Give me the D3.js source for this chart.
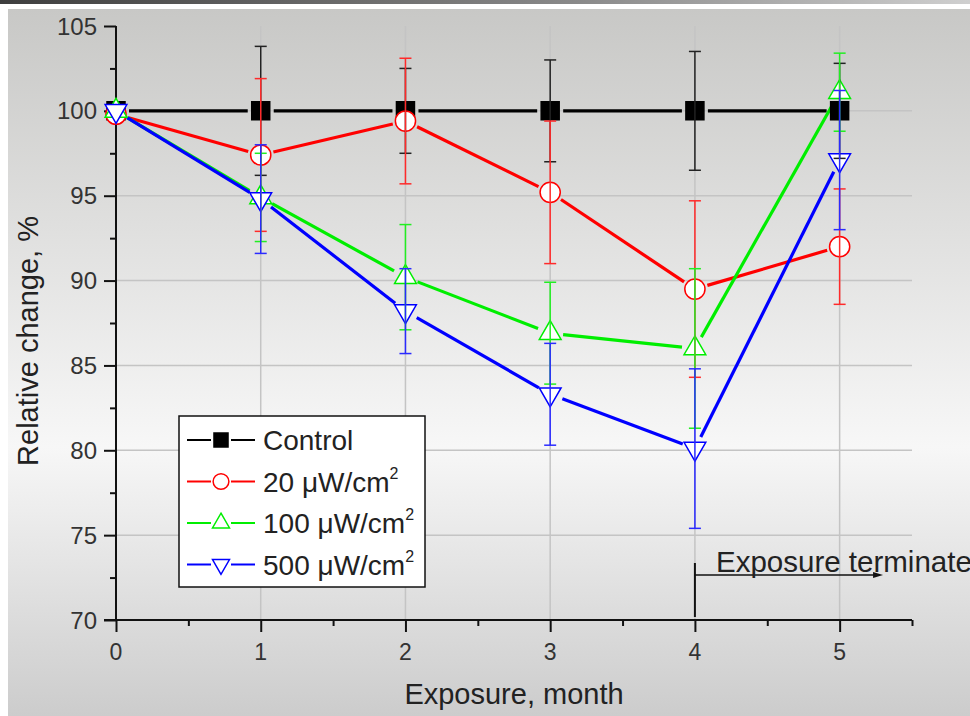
<!DOCTYPE html>
<html>
<head>
<meta charset="utf-8">
<script src="https://cdn.jsdelivr.net/npm/d3@7"></script>
<style>
    body { margin: 0; background: #ffffff; overflow: hidden; }
    text { font-family: "Liberation Sans", Arial, sans-serif; }
</style>
</head>
<body>
<div id="chart"></div>
<script>
// values
const months = [0, 1, 2, 3, 4, 5];
const x_ticks = [0, 1, 2, 3, 4, 5];
const y_ticks = [70, 75, 80, 85, 90, 95, 100, 105];
const grid_y = [75, 80, 85, 90, 95, 100];

const control_values = [100, 100, 100, 100, 100, 100];
const control_errors = [0, 3.8, 2.5, 3.0, 3.5, 2.8];

const uw20_values = [99.8, 97.4, 99.4, 95.2, 89.5, 92.0];
const uw20_errors = [0, 4.5, 3.7, 4.2, 5.2, 3.4];

const uw100_values = [100, 94.9, 90.2, 86.9, 86.0, 101.1];
const uw100_errors = [0, 2.6, 3.1, 3.0, 4.7, 2.3];

const uw500_values = [100, 94.8, 88.2, 83.3, 80.1, 97.1];
const uw500_errors = [0, 3.2, 2.5, 3.0, 4.7, 4.1];

const series = [
    {label: "Control", values: control_values, errors: control_errors, color: "#000000", err_color: "#222222", marker: "square"},
    {label: "20 ", values: uw20_values, errors: uw20_errors, color: "#ff0000", err_color: "#ff2a2a", marker: "circle"},
    {label: "100 ", values: uw100_values, errors: uw100_errors, color: "#00ee00", err_color: "#22ee22", marker: "up"},
    {label: "500 ", values: uw500_values, errors: uw500_errors, color: "#0000ff", err_color: "#2a2aff", marker: "down"}
];

const full_width = 970, full_height = 716;
const plot = {left: 116, right: 912, top: 26, bottom: 620};

const svg = d3.select("#chart").append("svg")
    .attr("width", full_width)
    .attr("height", full_height);

// background panel
const defs = svg.append("defs");
const bg = defs.append("linearGradient").attr("id", "bg").attr("x1", 0).attr("y1", 0).attr("x2", 0).attr("y2", 1);
bg.append("stop").attr("offset", "0%").attr("stop-color", "#c8c8c6");
bg.append("stop").attr("offset", "62%").attr("stop-color", "#f7f7f7");
bg.append("stop").attr("offset", "100%").attr("stop-color", "#cccccc");
const bar = defs.append("linearGradient").attr("id", "bar").attr("x1", 0).attr("y1", 0).attr("x2", 1).attr("y2", 0);
bar.append("stop").attr("offset", "0%").attr("stop-color", "#3e3e3e");
bar.append("stop").attr("offset", "60%").attr("stop-color", "#8a8a8a");
bar.append("stop").attr("offset", "100%").attr("stop-color", "#cfcfcf");

svg.append("rect").attr("x", 0).attr("y", 0).attr("width", full_width).attr("height", 4).attr("fill", "url(#bar)");
svg.append("rect").attr("x", 8).attr("y", 9).attr("width", full_width - 8).attr("height", full_height - 9).attr("fill", "url(#bg)");

const x = d3.scaleLinear().domain([0, 5.5]).range([plot.left, plot.right]);
const y = d3.scaleLinear().domain([70, 105]).range([plot.bottom, plot.top]);

// grid
svg.append("g").selectAll("line").data(grid_y).enter().append("line")
    .attr("x1", plot.left).attr("x2", plot.right)
    .attr("y1", d => y(d)).attr("y2", d => y(d))
    .attr("stroke", "#c4c4c4").attr("stroke-width", 1.5);
svg.append("g").selectAll("line").data(x_ticks.slice(1)).enter().append("line")
    .attr("x1", d => x(d)).attr("x2", d => x(d))
    .attr("y1", plot.top).attr("y2", plot.bottom)
    .attr("stroke", "#c4c4c4").attr("stroke-width", 1.5);

// axes
const x_axis = svg.append("g")
    .attr("transform", "translate(0," + plot.bottom + ")")
    .call(d3.axisBottom(x).tickValues(d3.range(0, 5.51, 0.5)).tickSize(6).tickFormat(""));
x_axis.selectAll(".tick line").filter(d => d % 1 === 0).attr("y2", 12);
x_axis.select(".domain").attr("d", "M" + (plot.left - 12) + ",0H" + plot.right);

const y_axis = svg.append("g")
    .attr("transform", "translate(" + plot.left + ",0)")
    .call(d3.axisLeft(y).tickValues(d3.range(70, 105.1, 2.5)).tickSize(6).tickFormat(""));
y_axis.selectAll(".tick line").filter(d => d % 5 === 0).attr("x2", -12);
y_axis.select(".domain").attr("d", "M0," + plot.top + "V" + plot.bottom);

svg.selectAll(".domain, .tick line").attr("stroke", "#111").attr("stroke-width", 2);

svg.append("g").selectAll("text").data(x_ticks).enter().append("text")
    .attr("x", d => x(d)).attr("y", 660)
    .attr("text-anchor", "middle").attr("font-size", 23).attr("fill", "#333")
    .text(d => d);
svg.append("g").selectAll("text").data(y_ticks).enter().append("text")
    .attr("x", 97).attr("y", d => y(d)).attr("dy", "0.36em")
    .attr("text-anchor", "end").attr("font-size", 24).attr("fill", "#333")
    .text(d => d);

svg.append("text").attr("x", 514).attr("y", 704)
    .attr("text-anchor", "middle").attr("font-size", 29).attr("fill", "#222")
    .text("Exposure, month");
svg.append("text").attr("transform", "translate(38,341) rotate(-90)")
    .attr("text-anchor", "middle").attr("font-size", 29).attr("fill", "#222")
    .text("Relative change, %");

function markerPath(type, scale) {
    const k = scale || 1;
    if (type === "square") return d3.symbol(d3.symbolSquare, 324 * k * k)();
    if (type === "circle") return d3.symbol(d3.symbolCircle, 320 * k * k)();
    return d3.symbol(d3.symbolTriangle, 205 * k * k)();
}

// connecting lines, broken at the markers
const gap = 13;
series.forEach(function (s) {
    const pts = months.map((m, i) => [x(m), y(s.values[i])]);
    const g = svg.append("g");
    for (let i = 0; i < pts.length - 1; i++) {
        const dx = pts[i + 1][0] - pts[i][0], dy = pts[i + 1][1] - pts[i][1];
        const len = Math.sqrt(dx * dx + dy * dy);
        const ux = dx / len, uy = dy / len;
        g.append("line")
            .attr("x1", pts[i][0] + ux * gap).attr("y1", pts[i][1] + uy * gap)
            .attr("x2", pts[i + 1][0] - ux * gap).attr("y2", pts[i + 1][1] - uy * gap)
            .attr("stroke", s.color).attr("stroke-width", 3.2);
    }
});

// markers
series.forEach(function (s) {
    svg.append("g").selectAll("path").data(months).enter().append("path")
        .attr("d", markerPath(s.marker))
        .attr("transform", (m, i) => "translate(" + x(m) + "," + y(s.values[i]) + ")" + (s.marker === "down" ? " rotate(180)" : ""))
        .attr("fill", s.marker === "square" ? "#000" : "#fff")
        .attr("stroke", s.color).attr("stroke-width", 1.5);
});

// error bars
series.forEach(function (s) {
    const g = svg.append("g").attr("stroke", s.err_color).attr("stroke-width", 1.5);
    months.forEach(function (m, i) {
        const e = s.errors[i];
        if (!e) return;
        const cx = x(m), top = y(s.values[i] + e), bot = y(s.values[i] - e);
        g.append("line").attr("x1", cx).attr("x2", cx).attr("y1", top).attr("y2", bot);
        g.append("line").attr("x1", cx - 6).attr("x2", cx + 6).attr("y1", top).attr("y2", top);
        g.append("line").attr("x1", cx - 6).attr("x2", cx + 6).attr("y1", bot).attr("y2", bot);
    });
});

// annotation
svg.append("line").attr("x1", x(4)).attr("x2", x(4)).attr("y1", 563).attr("y2", 617)
    .attr("stroke", "#111").attr("stroke-width", 2);
svg.append("line").attr("x1", x(4)).attr("x2", x(5.3) - 6).attr("y1", 575).attr("y2", 575)
    .attr("stroke", "#111").attr("stroke-width", 1.5);
svg.append("path").attr("d", "M" + (x(5.3) - 10) + ",572L" + x(5.3) + ",575L" + (x(5.3) - 10) + ",578Z").attr("fill", "#111");
svg.append("text").attr("x", 716).attr("y", 572).attr("font-size", 29.5).attr("fill", "#222")
    .text("Exposure terminated");

// legend
const legend = svg.append("g");
legend.append("rect").attr("x", 179).attr("y", 416).attr("width", 246).attr("height", 171)
    .attr("fill", "#fff").attr("stroke", "#111").attr("stroke-width", 1.5);
series.forEach(function (s, i) {
    const ly = 440 + i * 41.5;
    const row = legend.append("g");
    row.append("line").attr("x1", 187).attr("x2", 211).attr("y1", ly).attr("y2", ly)
        .attr("stroke", s.color).attr("stroke-width", 2);
    row.append("line").attr("x1", 231).attr("x2", 255).attr("y1", ly).attr("y2", ly)
        .attr("stroke", s.color).attr("stroke-width", 2);
    row.append("path").attr("d", markerPath(s.marker, 0.78))
        .attr("transform", "translate(221," + ly + ")" + (s.marker === "down" ? " rotate(180)" : ""))
        .attr("fill", s.marker === "square" ? "#000" : "#fff")
        .attr("stroke", s.color).attr("stroke-width", 1.5);
    const t = row.append("text").attr("x", 263).attr("y", ly + 10)
        .attr("font-size", 28).attr("fill", "#222").text(s.label);
    if (i > 0) {
        t.append("tspan").text("\u03bcW/cm");
        t.append("tspan").attr("dy", -13).attr("font-size", 16).text("2");
    }
});
</script>
</body>
</html>
